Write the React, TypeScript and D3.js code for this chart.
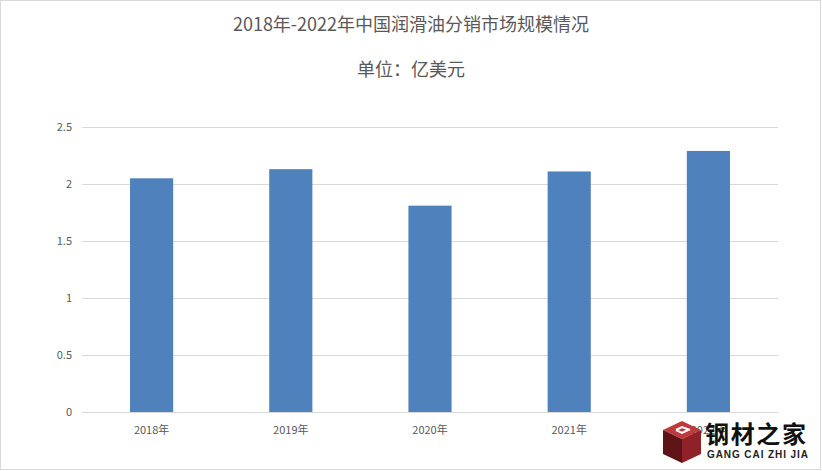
import React, { useEffect, useRef } from 'react';
import * as d3 from 'd3';

const categories = ['2018年', '2019年', '2020年', '2021年', '2022年'];
const values = [2.05, 2.13, 1.81, 2.11, 2.29];
const yTicks = [0, 0.5, 1, 1.5, 2, 2.5];

const W = 822;
const H = 471;

const Chart: React.FC = () => {
  const svgRef = useRef<SVGSVGElement>(null);

  useEffect(() => {
    if (!svgRef.current) return;
    const svg = d3.select(svgRef.current);
    svg.selectAll('*').remove();

    const margin = { top: 127, right: 44, bottom: 59, left: 82 };
    const w = W - margin.left - margin.right;
    const h = H - margin.top - margin.bottom;

    svg.append('rect')
      .attr('x', 0.5).attr('y', 0.5)
      .attr('width', W - 2).attr('height', H - 2)
      .attr('fill', '#fff')
      .attr('stroke', '#d9d9d9');

    svg.append('text')
      .attr('x', 411).attr('y', 31)
      .attr('text-anchor', 'middle')
      .attr('font-size', 18)
      .attr('fill', '#595959')
      .text('2018年-2022年中国润滑油分销市场规模情况');

    svg.append('text')
      .attr('x', 411).attr('y', 76)
      .attr('text-anchor', 'middle')
      .attr('font-size', 18)
      .attr('fill', '#595959')
      .text('单位：亿美元');

    const x = d3.scaleBand<string>().domain(categories).range([0, w]).paddingInner(0.69).paddingOuter(0.345);
    const y = d3.scaleLinear().domain([0, 2.5]).range([h, 0]);

    const g = svg.append('g').attr('transform', `translate(${margin.left},${margin.top})`);

    g.selectAll('line.grid')
      .data(yTicks)
      .join('line')
      .attr('x1', 0).attr('x2', w)
      .attr('y1', (d) => Math.round(y(d)) + 0.5)
      .attr('y2', (d) => Math.round(y(d)) + 0.5)
      .attr('stroke', '#d9d9d9');

    g.selectAll('text.ytick')
      .data(yTicks)
      .join('text')
      .attr('x', -10)
      .attr('y', (d) => y(d))
      .attr('dy', '0.35em')
      .attr('text-anchor', 'end')
      .attr('font-size', 11)
      .attr('fill', '#595959')
      .text((d) => String(d));

    g.selectAll('rect.bar')
      .data(values)
      .join('rect')
      .attr('x', (_, i) => x(categories[i])!)
      .attr('y', (d) => y(d))
      .attr('width', x.bandwidth())
      .attr('height', (d) => h - y(d))
      .attr('fill', '#4f81bd');

    g.selectAll('text.xtick')
      .data(categories)
      .join('text')
      .attr('x', (d) => x(d)! + x.bandwidth() / 2)
      .attr('y', h + 22)
      .attr('text-anchor', 'middle')
      .attr('font-size', 11)
      .attr('fill', '#595959')
      .text((d) => d);

    // watermark
    const wm = svg.append('g').attr('transform', 'translate(663,421)');
    wm.append('path').attr('d', 'M0,9 L19,0 L38,9 L19,18 Z').attr('fill', '#c0393b');
    wm.append('path').attr('d', 'M0,9 L19,18 L19,42 L0,33 Z').attr('fill', '#5e1416');
    wm.append('path').attr('d', 'M19,18 L38,9 L38,33 L19,42 Z').attr('fill', '#8e2226');
    wm.append('path')
      .attr('d', 'M13,9 L19,6 L27,9 M13,9 L19,12 L25,9')
      .attr('fill', 'none').attr('stroke', '#fff').attr('stroke-width', 2);
    wm.append('text')
      .attr('x', 42).attr('y', 22)
      .attr('font-size', 24)
      .attr('font-weight', 'bold')
      .attr('fill', '#111')
      .attr('font-family', '"Noto Sans CJK SC", sans-serif')
      .attr('textLength', 101)
      .text('钢材之家');
    wm.append('text')
      .attr('x', 44).attr('y', 37)
      .attr('font-size', 10)
      .attr('font-weight', 'bold')
      .attr('fill', '#222')
      .attr('font-family', '"Liberation Sans", Arial, sans-serif')
      .attr('textLength', 101)
      .text('GANG CAI ZHI JIA');
  }, []);

  return (
    <svg
      ref={svgRef}
      width={W}
      height={H}
      style={{ display: 'block', fontFamily: '"Noto Sans CJK SC", "Noto Sans", sans-serif' }}
    />
  );
};

export default function App() {
  return (
    <div style={{ position: 'absolute', left: 0, top: 0 }}>
      <Chart />
    </div>
  );
}
